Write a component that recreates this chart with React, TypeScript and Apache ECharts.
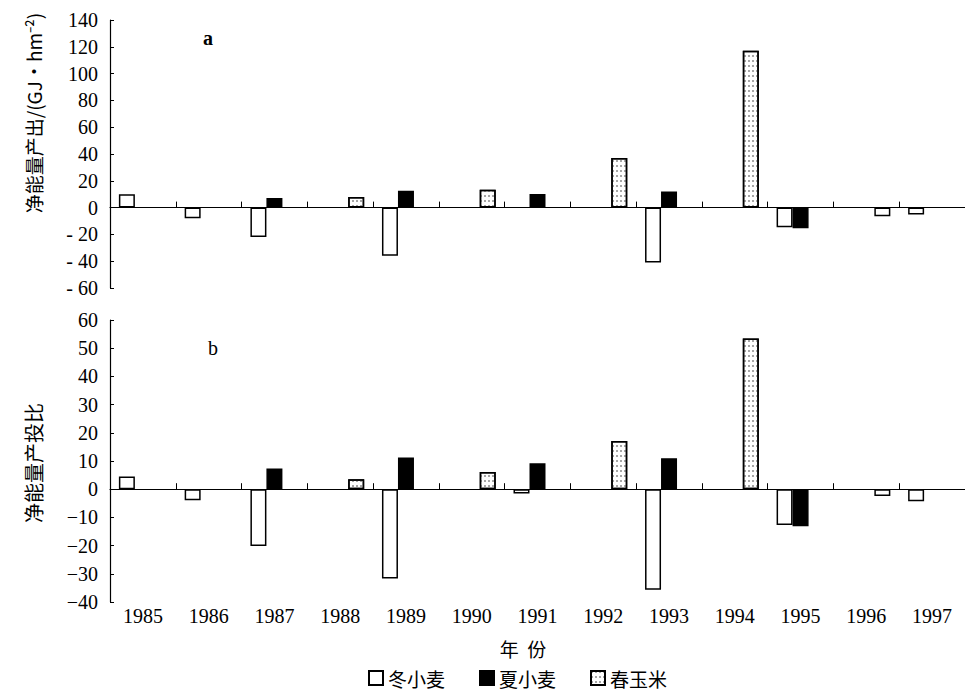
import React, { useEffect, useRef } from "react";
import * as echarts from "echarts";

const years = ["1985", "1986", "1987", "1988", "1989", "1990", "1991", "1992", "1993", "1994", "1995", "1996", "1997"];

// panel a: 净能量产出 (GJ·hm-2)
const winterA = [10, -8, -22, null, -36, null, null, null, -41, null, -14.7, null, -5.2];
const summerA = [null, null, 7.2, null, 12.6, null, 10.2, null, 12.1, null, -15.4, null, null];
const cornA = [null, null, null, 8, null, 13.4, null, 37, null, 117, null, -6.5, null];

// panel b: 净能量产投比
const winterB = [4.5, -3.9, -20.1, null, -31.7, null, -1.5, null, -35.7, null, -12.7, null, -4.3];
const summerB = [null, null, 7.3, null, 11.2, null, 9.2, null, 11, null, -13.1, null, null];
const cornB = [null, null, null, 3.5, null, 6.1, null, 17.1, null, 53.4, null, -2.4, null];

// the 1996 bar sits in the third slot but is drawn unfilled in the original
const plainCornIndex = 11;

const seriesNames = ["冬小麦", "夏小麦", "春玉米"];

const SERIF = "'Liberation Serif', 'Noto Sans CJK SC', serif";
const CJK = "'Noto Sans CJK SC', sans-serif";

export default function App() {
  const ref = useRef<HTMLDivElement>(null);

  useEffect(() => {
    if (!ref.current) return;
    const chart = echarts.init(ref.current, undefined, { renderer: "svg" });

    const winterStyle = { color: "#fff", borderColor: "#000", borderWidth: 1.5 };
    const summerStyle = { color: "#000", borderColor: "#000", borderWidth: 1.5 };
    const cornStyle = {
      color: "#fff",
      borderColor: "#000",
      borderWidth: 1.5,
      decal: {
        symbol: "rect",
        symbolSize: 0.7,
        color: "#555",
        backgroundColor: "#f2f2f2",
        dashArrayX: [2, 2],
        dashArrayY: [2, 3],
        rotation: 0,
      },
    };

    const cornData = (arr: (number | null)[]) =>
      arr.map((v, i) =>
        i === plainCornIndex && v !== null
          ? { value: v, itemStyle: { color: "#fff", decal: "none" } }
          : v
      );

    const xBase = {
      type: "category",
      data: years,
      boundaryGap: true,
      axisLine: { show: true, onZero: true, lineStyle: { color: "#000", width: 1.2 } },
      axisTick: { show: true, inside: true, length: 6, lineStyle: { color: "#000" } },
      axisLabel: { show: false },
    };

    const yBase = {
      type: "value",
      axisLine: { show: true, lineStyle: { color: "#000", width: 1.2 } },
      axisTick: { show: true, inside: true, length: 4, lineStyle: { color: "#000" } },
      splitLine: { show: false },
    };

    const barCommon = { type: "bar", barWidth: 16, barGap: "0%" };

    chart.setOption({
      animation: false,
      backgroundColor: "#fff",
      textStyle: { fontFamily: SERIF },
      grid: [
        { left: 110, top: 20, width: 858, height: 268 },
        { left: 110, top: 320, width: 858, height: 282 },
      ],
      xAxis: [
        { ...xBase, gridIndex: 0 },
        { ...xBase, gridIndex: 1 },
        {
          type: "category",
          data: years,
          gridIndex: 1,
          position: "bottom",
          axisLine: { show: false, onZero: false },
          axisTick: { show: false },
          axisLabel: { show: true, margin: 4, color: "#000", fontFamily: SERIF, fontSize: 20 },
        },
      ],
      yAxis: [
        {
          ...yBase,
          gridIndex: 0,
          min: -60,
          max: 140,
          interval: 20,
          axisLabel: {
            color: "#000",
            fontFamily: SERIF,
            fontSize: 20,
            margin: 12,
            formatter: (v: number) => (v < 0 ? "- " + Math.abs(v) : String(v)),
          },
        },
        {
          ...yBase,
          gridIndex: 1,
          min: -40,
          max: 60,
          interval: 10,
          axisLabel: {
            color: "#000",
            fontFamily: SERIF,
            fontSize: 20,
            margin: 12,
            formatter: (v: number) => (v < 0 ? "\u2212" + Math.abs(v) : String(v)),
          },
        },
      ],
      legend: {
        left: 368,
        top: 668,
        itemWidth: 14,
        itemHeight: 14,
        itemGap: 34,
        icon: "rect",
        padding: 0,
        data: seriesNames,
        textStyle: { color: "#000", fontFamily: CJK, fontSize: 19, lineHeight: 20 },
      },
      series: [
        { ...barCommon, name: seriesNames[0], xAxisIndex: 0, yAxisIndex: 0, data: winterA, itemStyle: winterStyle },
        { ...barCommon, name: seriesNames[1], xAxisIndex: 0, yAxisIndex: 0, data: summerA, itemStyle: summerStyle },
        { ...barCommon, name: seriesNames[2], xAxisIndex: 0, yAxisIndex: 0, data: cornData(cornA), itemStyle: cornStyle },
        { ...barCommon, name: seriesNames[0], xAxisIndex: 1, yAxisIndex: 1, data: winterB, itemStyle: winterStyle },
        { ...barCommon, name: seriesNames[1], xAxisIndex: 1, yAxisIndex: 1, data: summerB, itemStyle: summerStyle },
        { ...barCommon, name: seriesNames[2], xAxisIndex: 1, yAxisIndex: 1, data: cornData(cornB), itemStyle: cornStyle },
      ],
      graphic: [
        {
          type: "text",
          x: 33,
          y: 113,
          rotation: Math.PI / 2,
          style: {
            text: "净能量产出/(GJ·hm⁻²)",
            font: "19px 'Noto Sans CJK SC', 'Liberation Serif', sans-serif",
            fill: "#000",
            align: "center",
            verticalAlign: "middle",
          },
        },
        {
          type: "text",
          x: 33,
          y: 463,
          rotation: Math.PI / 2,
          style: {
            text: "净能量产投比",
            font: "20px 'Noto Sans CJK SC', sans-serif",
            fill: "#000",
            align: "center",
            verticalAlign: "middle",
          },
        },
        {
          type: "text",
          x: 208,
          y: 38,
          style: { text: "a", font: "bold 20px 'Liberation Serif', serif", fill: "#000", align: "center", verticalAlign: "middle" },
        },
        {
          type: "text",
          x: 213,
          y: 348,
          style: { text: "b", font: "20px 'Liberation Serif', serif", fill: "#000", align: "center", verticalAlign: "middle" },
        },
        {
          type: "text",
          x: 523,
          y: 648,
          style: { text: "年  份", font: "19px 'Noto Sans CJK SC', sans-serif", fill: "#000", align: "center", verticalAlign: "middle" },
        },
      ],
    });

    return () => chart.dispose();
  }, []);

  return (
    <div
      ref={ref}
      style={{ position: "fixed", left: 0, top: 0, width: 965, height: 693, background: "#fff" }}
    />
  );
}
